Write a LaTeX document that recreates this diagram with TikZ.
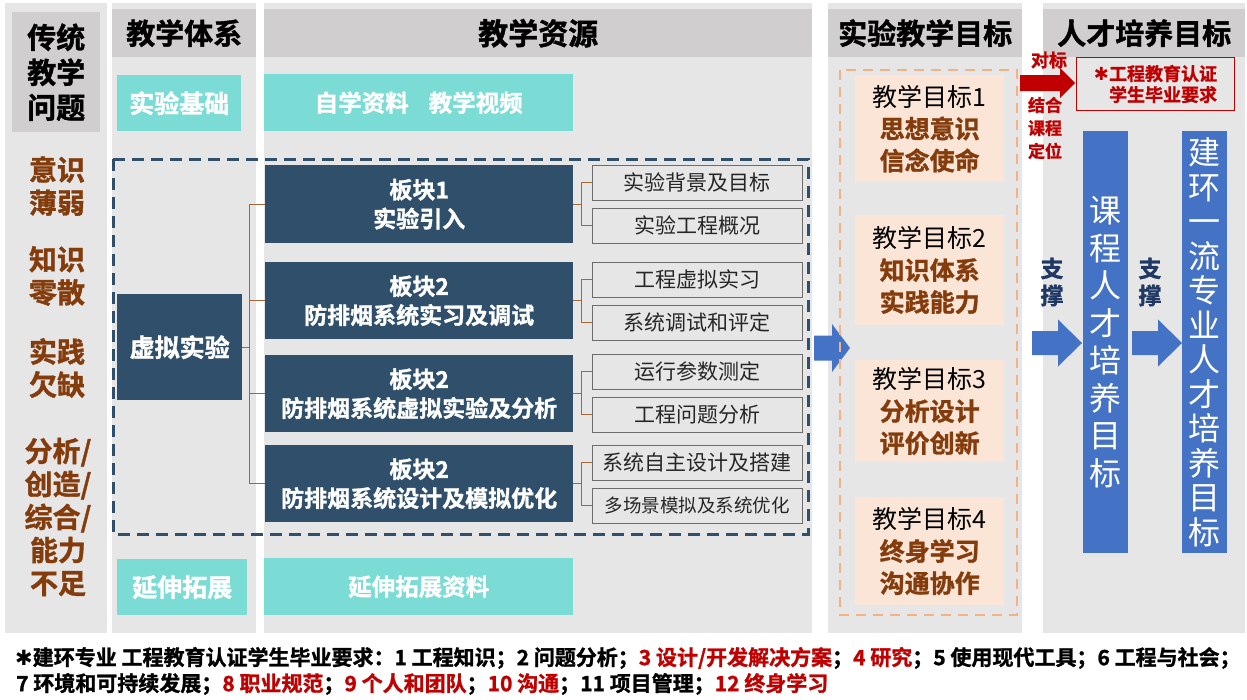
\documentclass[tikz,border=0pt]{standalone}
\usepackage{fontspec}
\setmainfont{Noto Sans CJK SC}[BoldFont={Noto Sans CJK SC Bold}, BoldFeatures={FakeBold=1.3}]
\newfontfamily\symfont{DejaVu Sans}

\definecolor{colbg}{HTML}{E7E6E6}
\definecolor{hdrgray}{HTML}{D0CECE}
\definecolor{tealbg}{HTML}{7BDCD5}
\definecolor{slate}{HTML}{2F4F6A}
\definecolor{brkline}{HTML}{A5673A}
\definecolor{subtxt}{HTML}{262626}
\definecolor{probtxt}{HTML}{843C0C}
\definecolor{dashorange}{HTML}{F4B183}
\definecolor{peach}{HTML}{FBE5D6}
\definecolor{pptblue}{HTML}{4472C4}
\definecolor{pptred}{HTML}{C00000}
\definecolor{navy}{HTML}{1F3864}

\newcommand\rd[1]{\textcolor{pptred}{#1}}
\newcommand\gl[1]{{\bfseries\color{probtxt}#1}}
% color, tail x, head base x, tip x, centre y, shaft half width, head half width
\newcommand\bigarrow[7]{%
  \fill[#1] (#2,#5-#6) -- (#3,#5-#6) -- (#3,#5-#7) -- (#4,#5)
    -- (#3,#5+#7) -- (#3,#5+#6) -- (#2,#5+#6) -- cycle;}

\tikzset{
  base/.style={anchor=north west, inner sep=0pt, align=center},
  hdr/.style={base, fill=hdrgray, font=\bfseries\fontsize{29}{35}\selectfont},
  tealbox/.style={base, fill=tealbg, text=white, font=\bfseries\fontsize{25}{30}\selectfont},
  blockbox/.style={base, fill=slate, text=white, minimum width=308pt, minimum height=77pt,
    font=\bfseries\fontsize{23}{29}\selectfont},
  subbox/.style={base, draw=gray!85!black, fill=colbg, text=subtxt, line width=0.8pt,
    minimum width=210pt, minimum height=35pt, font=\fontsize{21}{25}\selectfont},
  goalbox/.style={base, fill=peach, minimum width=149pt, font=\fontsize{25}{32}\selectfont},
  prob/.style={text=probtxt, inner sep=0pt, align=center, font=\bfseries\fontsize{28}{33}\selectfont},
  brk/.style={draw=brkline, line width=0.9pt},
  tallbox/.style={base, fill=pptblue, text=white, minimum width=45pt, minimum height=422pt},
  redtxt/.style={text=pptred, inner sep=0pt, align=center, font=\bfseries\fontsize{17}{23}\selectfont},
  support/.style={text=navy, inner sep=0pt, align=center, font=\bfseries\fontsize{23}{27}\selectfont},
  foot/.style={anchor=west, inner sep=0pt, font=\bfseries\fontsize{21}{25}\selectfont}
}

\begin{document}
\begin{tikzpicture}[x=1pt,y=-1pt]
  \useasboundingbox (0,0) rectangle (1247,699);
  \fill[white] (0,0) rectangle (1247,699);

  % columns
  \fill[colbg] (5,3) rectangle (107,633);
  \fill[colbg] (112,3) rectangle (256,633);
  \fill[colbg] (264,3) rectangle (812,633);
  \fill[colbg] (828,3) rectangle (1022,633);
  \fill[colbg] (1043,3) rectangle (1245,633);

  \node[hdr, minimum width=88pt, minimum height=120pt] (hd1) at (12,12) {传统\\教学\\问题};
  \node[hdr, minimum width=144pt, minimum height=48pt] (hd2) at (112,9) {教学体系};
  \node[hdr, minimum width=548pt, minimum height=48pt, font=\bfseries\fontsize{30}{35}\selectfont] (hd3) at (264,9) {教学资源};
  \node[hdr, minimum width=194pt, minimum height=48pt] (hd4) at (828,9) {实验教学目标};
  \node[hdr, minimum width=202pt, minimum height=48pt] (hd5) at (1043,9) {人才培养目标};

  %%%%%%%%%%%%%%%%%%%%%%%%%%%%%%%%%%%%
  % problems
  \node[prob] (p1) at (57,186) {意识\\薄弱};
  \node[prob] (p2) at (57,276) {知识\\零散};
  \node[prob] (p3) at (57,368) {实践\\欠缺};
  \node[prob] (p4) at (58,517) {分析/\\创造/\\综合/\\能力\\不足};

  %%%%%%%%%%%%%%%%%%%%%%%%%%%%%%%%%%%%
  % teaching system and resources
  \node[tealbox, minimum width=124pt, minimum height=56pt] (jc) at (117,75) {实验基础};
  \node[tealbox, minimum width=309pt, minimum height=57pt, font=\bfseries\fontsize{23.5}{28}\selectfont] (zx) at (264,74) {自学资料\hspace{20pt}教学视频};
  \node[tealbox, minimum width=130pt, minimum height=56pt] (yz) at (117,559) {延伸拓展};
  \node[tealbox, minimum width=309pt, minimum height=57pt, font=\bfseries\fontsize{23.5}{28}\selectfont] (yzzl) at (264,558) {延伸拓展资料};

  \draw[slate, line width=3pt, dash pattern=on 12pt off 7pt] (113,159) rectangle (808,534);

  \node[blockbox, minimum width=125pt, minimum height=106pt, font=\bfseries\fontsize{25}{30}\selectfont] (vr) at (117,294) {虚拟实验};

  \node[blockbox, minimum height=78pt] (b1) at (265,165) {板块1\\实验引入};
  \node[blockbox] (b2) at (265,262) {板块2\\防排烟系统实习及调试};
  \node[blockbox] (b3) at (265,355) {板块2\\防排烟系统虚拟实验及分析};
  \node[blockbox] (b4) at (265,445) {板块2\\防排烟系统设计及模拟优化};

  \node[subbox] (s1) at (592,165) {实验背景及目标};
  \node[subbox] (s2) at (592,208) {实验工程概况};
  \node[subbox] (s3) at (592,262) {工程虚拟实习};
  \node[subbox] (s4) at (592,305) {系统调试和评定};
  \node[subbox] (s5) at (592,354) {运行参数测定};
  \node[subbox] (s6) at (592,397) {工程问题分析};
  \node[subbox] (s7) at (592,445) {系统自主设计及搭建};
  \node[subbox, font=\fontsize{18.5}{22}\selectfont] (s8) at (592,488) {多场景模拟及系统优化};

  \coordinate (vj) at (249,0);
  \draw[brk] (b1.west) -| (vj |- b4.west) -- (b4.west);
  \draw[brk] (vr.east) -- (vj |- vr.east);
  \foreach \b in {b2,b3}
    \draw[brk] (\b.west) -- (vj |- \b.west);

  \foreach \k/\a/\b in {b1/s1/s2, b2/s3/s4, b3/s5/s6, b4/s7/s8}{
    \draw[brk] (\a.west) -- ++(-11,0) |- (\b.west);
    \draw[brk] (\k.east) -- ++(8,0);
  }

  \bigarrow{pptblue}{814}{832}{850}{348}{12.5}{24}

  %%%%%%%%%%%%%%%%%%%%%%%%%%%%%%%%%%%%
  % teaching goals
  \draw[dashorange, line width=2.5pt, dash pattern=on 10pt off 7pt] (840,70) rectangle (1017,615);

  \node[goalbox, minimum height=107pt] (g1) at (855,75) {教学目标1\\\gl{思想意识}\\\gl{信念使命}};
  \node[goalbox, minimum height=110pt] (g2) at (855,215) {教学目标2\\\gl{知识体系}\\\gl{实践能力}};
  \node[goalbox, minimum height=102pt] (g3) at (855,360) {教学目标3\\\gl{分析设计}\\\gl{评价创新}};
  \node[goalbox, minimum height=108pt] (g4) at (855,497) {教学目标4\\\gl{终身学习}\\\gl{沟通协作}};

  %%%%%%%%%%%%%%%%%%%%%%%%%%%%%%%%%%%%
  % talent goals
  \bigarrow{pptred}{1020}{1060}{1075}{83}{8}{15}
  \node[redtxt, font=\bfseries\fontsize{18}{22}\selectfont] (db) at (1049,60) {对标};
  \node[redtxt] (jh) at (1045,128) {结合\\课程\\定位};

  \node[base, draw=pptred, line width=1pt, minimum width=158pt, minimum height=53pt, align=right,
    text=pptred, font=\bfseries\fontsize{18}{21}\selectfont] (rb) at (1076,57)
    {{\symfont ✱}工程教育认证\\学生毕业要求};

  \node[tallbox, font=\fontsize{32}{37.5}\selectfont] (kc) at (1083,131) {课\\程\\人\\才\\培\\养\\目\\标};
  \node[tallbox, font=\fontsize{32}{34.5}\selectfont] (zy) at (1182,131) {建\\环\\一\\流\\专\\业\\人\\才\\培\\养\\目\\标};

  \node[support] (zc1) at (1052,282) {支\\撑};
  \node[support] (zc2) at (1150,282) {支\\撑};
  \bigarrow{pptblue}{1032}{1058}{1082}{343}{12}{23.5}
  \bigarrow{pptblue}{1132}{1158}{1182}{343}{12}{23.5}

  %%%%%%%%%%%%%%%%%%%%%%%%%%%%%%%%%%%%
  % footnote
  \node[foot] (ft1) at (15,658) {{\symfont ✱}建环专业 工程教育认证学生毕业要求：1 工程知识；2 问题分析；\rd{3 设计/开发解决方案}；\rd{4 研究}；5 使用现代工具；6 工程与社会；};
  \node[foot] (ft2) at (16,684) {7 环境和可持续发展；\rd{8 职业规范}；\rd{9 个人和团队}；\rd{10 沟通}；11 项目管理；\rd{12 终身学习}};
\end{tikzpicture}
\end{document}
